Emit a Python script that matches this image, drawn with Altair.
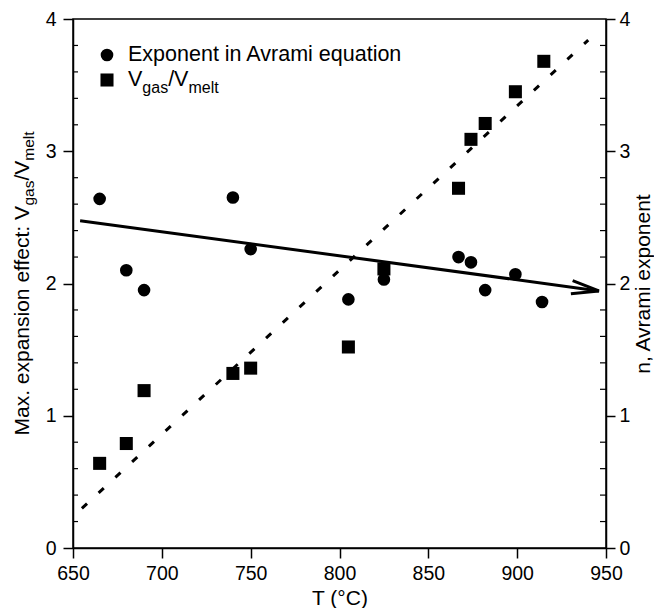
import altair as alt
import pandas as pd

# ---------------- data ----------------
T_avrami = [665, 680, 690, 740, 750, 805, 825, 867, 874, 882, 899, 914]
n_avrami = [2.64, 2.10, 1.95, 2.65, 2.26, 1.88, 2.03, 2.20, 2.16, 1.95, 2.07, 1.86]

T_vgas = [665, 680, 690, 740, 750, 805, 825, 867, 874, 882, 899, 915]
v_ratio = [0.64, 0.79, 1.19, 1.32, 1.36, 1.52, 2.11, 2.72, 3.09, 3.21, 3.45, 3.68]

fit_n_T = [654, 946]
fit_n = [2.475, 1.944]

fit_v_T = [655, 940]
fit_v = [0.30, 3.84]

x_ticks = [650, 700, 750, 800, 850, 900, 950]
y_ticks = [0, 1, 2, 3, 4]
y_minor = [0.2, 0.4, 0.6, 0.8, 1.2, 1.4, 1.6, 1.8, 2.2, 2.4, 2.6, 2.8,
           3.2, 3.4, 3.6, 3.8]

# ---------------- layout helpers ----------------
FONT = "Liberation Sans"
W, H = 533, 529
ARIAL = {'M': 833, 'a': 556, 'x': 500, '.': 278, ' ': 278, 'e': 556, 'p': 556,
         'n': 556, 's': 500, 'i': 222, 'o': 556, 'f': 278, 'c': 500, 't': 278,
         ':': 278, 'V': 667, 'g': 556, '/': 278, 'm': 833, 'l': 222}


def tw(s, fs):
    return sum(ARIAL.get(c, 556) for c in s) * fs / 1000.0


df_n = pd.DataFrame({"T": T_avrami, "v": n_avrami})
df_v = pd.DataFrame({"T": T_vgas, "v": v_ratio})
df_fn = pd.DataFrame({"T": fit_n_T, "v": fit_n})
df_fv = pd.DataFrame({"T": fit_v_T, "v": fit_v})
df_arrow = pd.DataFrame({"T": fit_n_T[-1:], "v": fit_n[-1:]})
df_minor = pd.DataFrame({"v": y_minor})
one = pd.DataFrame({"a": [0]})

xscale = alt.Scale(domain=[650, 950], nice=False, zero=False)
yscale = alt.Scale(domain=[0, 4], nice=False, zero=False)

x_axis = alt.Axis(values=x_ticks, title="T (°C)", format="d", tickSize=10,
                  labelPadding=6, labelFlush=False, labelOverlap=False,
                  titleY=56, titleBaseline="alphabetic")
yl_axis = alt.Axis(values=y_ticks, title=None, format="d", tickSize=10,
                   labelPadding=7)
yr_axis = alt.Axis(values=y_ticks, orient="right", title="n, Avrami exponent",
                   format="d", tickSize=9, labelPadding=4, titleAngle=270,
                   titleX=43, titleY=H / 2, titleAlign="center",
                   titleBaseline="alphabetic")


def X(field="T"):
    return alt.X(f"{field}:Q", scale=xscale, axis=x_axis)


def YL():
    return alt.Y("v:Q", scale=yscale, axis=yl_axis)


def YR():
    return alt.Y("v:Q", scale=yscale, axis=yr_axis)


# ---------------- left (V_gas/V_melt) group ----------------
dashed = alt.Chart(df_fv).mark_line(color="black", strokeWidth=3,
                                    strokeDash=[7, 15.8]).encode(x=X(), y=YL())
squares = alt.Chart(df_v).mark_point(shape="square", filled=True, size=170,
                                     color="black", opacity=1).encode(x=X(), y=YL())
minor_l = alt.Chart(df_minor).mark_rule(color="black", strokeWidth=1.2).encode(
    y=YL(), x=alt.value(0), x2=alt.value(5))


def txt(s, x, y, fs, angle=0, align="left"):
    kw = dict(text=s, fontSize=fs, font=FONT, color="black", align=align,
              baseline="alphabetic")
    if angle:
        kw["angle"] = angle
    return alt.Chart(one).mark_text(**kw).encode(x=alt.value(x), y=alt.value(y))


leg_fs, leg_sub = 21.5, 16
legend_layers = [
    alt.Chart(one).mark_point(shape="circle", filled=True, size=160,
                              color="black", opacity=1).encode(
        x=alt.value(34), y=alt.value(36)),
    alt.Chart(one).mark_point(shape="square", filled=True, size=170,
                              color="black", opacity=1).encode(
        x=alt.value(34), y=alt.value(61)),
    txt("Exponent in Avrami equation", 55, 42, leg_fs),
]
lx = 55
for s, fs, yy in [("V", leg_fs, 67), ("gas", leg_sub, 74), ("/V", leg_fs, 67),
                  ("melt", leg_sub, 74)]:
    legend_layers.append(txt(s, lx, yy, fs))
    lx += tw(s, fs)

t_fs, t_sub = 21, 15.5
pieces = [("Max. expansion effect: V", t_fs, 0), ("gas", t_sub, 5),
          ("/V", t_fs, 0), ("melt", t_sub, 5)]
total = sum(tw(s, f) for s, f, _ in pieces)
ty = H / 2 + total / 2
base_x = -44
title_layers = []
for s, f, off in pieces:
    title_layers.append(txt(s, base_x + off, ty, f, angle=270))
    ty -= tw(s, f)

left = alt.layer(dashed, squares, minor_l, *legend_layers, *title_layers)

# ---------------- right (Avrami exponent) group ----------------
solid = alt.Chart(df_fn).mark_line(color="black", strokeWidth=3).encode(
    x=X(), y=YR())
arrow = alt.Chart(df_arrow).mark_point(
    shape="M -1 -0.24 L 0 0 L -1 0.24", filled=False, size=3000,
    strokeWidth=3, color="black", opacity=1, angle=7.8).encode(x=X(), y=YR())
circles = alt.Chart(df_n).mark_point(shape="circle", filled=True, size=160,
                                     color="black", opacity=1).encode(x=X(), y=YR())
minor_r = alt.Chart(df_minor).mark_rule(color="black", strokeWidth=1.2).encode(
    y=YR(), x=alt.value(W), x2=alt.value(W - 6))

right = alt.layer(solid, arrow, circles, minor_r)

chart = alt.layer(left, right).resolve_scale(y="independent").properties(
    width=W, height=H,
    autosize=alt.AutoSizeParams(type="none"),
    padding={"left": 65, "top": 11, "right": 48, "bottom": 60},
).configure_view(stroke="black", strokeWidth=1.5).configure_axis(
    grid=False, domainColor="black", domainWidth=1.5, tickColor="black",
    tickWidth=1.5, labelColor="black", labelFont=FONT, labelFontSize=19.5,
    titleColor="black", titleFont=FONT, titleFontSize=21,
    titleFontWeight="normal",
)

chart.save("out.html", embed_options={"renderer": "svg", "actions": False})
